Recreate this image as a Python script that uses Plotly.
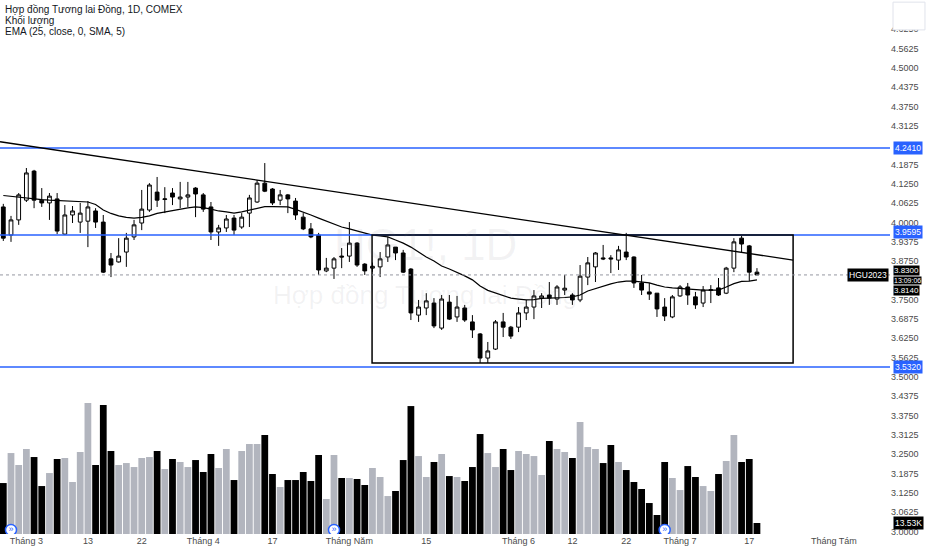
import plotly.graph_objects as go

# daily bars, Feb 24 .. Jul 18 2023 (HG1!, COMEX)
opens = [4.050, 3.959, 4.008, 4.072, 4.166, 4.072, 4.063, 4.076, 3.962, 4.024,
         4.001, 4.004, 4.037, 4.001, 3.882, 3.872, 3.904, 3.953, 3.998, 4.040,
         4.098, 4.074, 4.095, 4.076, 4.082, 4.111, 4.089, 4.050, 3.969, 3.982,
         4.014, 3.985, 4.030, 4.066, 4.127, 4.108, 4.072, 4.089, 4.069, 4.017,
         3.979, 3.959, 3.843, 3.852, 3.891, 3.891, 3.933, 3.865, 3.852, 3.856,
         3.888, 3.920, 3.901, 3.849, 3.700, 3.723, 3.739, 3.658, 3.742, 3.694,
         3.723, 3.678, 3.639, 3.561, 3.590, 3.678, 3.661, 3.661, 3.707, 3.726,
         3.755, 3.765, 3.752, 3.781, 3.765, 3.749, 3.823, 3.856, 3.885, 3.885,
         3.878, 3.904, 3.888, 3.804, 3.775, 3.771, 3.726, 3.694, 3.762, 3.791,
         3.759, 3.739, 3.780, 3.788, 3.771, 3.852, 3.949, 3.924, 3.839]
highs = [4.060, 4.021, 4.095, 4.176, 4.170, 4.111, 4.095, 4.095, 4.056, 4.053,
         4.063, 4.069, 4.046, 4.024, 3.901, 3.949, 3.966, 4.008, 4.105, 4.127,
         4.147, 4.114, 4.111, 4.131, 4.131, 4.114, 4.095, 4.066, 3.992, 4.024,
         4.024, 4.030, 4.089, 4.137, 4.192, 4.111, 4.105, 4.092, 4.079, 4.030,
         3.998, 3.966, 3.885, 3.888, 3.917, 4.001, 3.936, 3.868, 3.870, 3.904,
         3.953, 3.920, 3.911, 3.852, 3.749, 3.771, 3.755, 3.765, 3.765, 3.762,
         3.733, 3.700, 3.642, 3.613, 3.684, 3.707, 3.665, 3.726, 3.749, 3.781,
         3.771, 3.807, 3.797, 3.830, 3.771, 3.862, 3.888, 3.904, 3.927, 3.894,
         3.924, 3.966, 3.890, 3.830, 3.804, 3.771, 3.755, 3.765, 3.797, 3.804,
         3.775, 3.794, 3.797, 3.820, 3.856, 3.949, 3.956, 3.927, 3.852]
lows = [3.940, 3.937, 3.992, 4.066, 4.046, 4.050, 4.008, 3.962, 3.959, 3.998,
        3.966, 3.920, 3.982, 3.836, 3.823, 3.870, 3.856, 3.943, 3.975, 4.034,
        4.050, 4.030, 4.056, 4.046, 4.050, 4.017, 4.034, 3.943, 3.924, 3.969,
        3.959, 3.979, 3.985, 4.063, 4.098, 4.056, 4.056, 4.030, 4.008, 3.975,
        3.949, 3.830, 3.839, 3.817, 3.852, 3.872, 3.856, 3.830, 3.840, 3.823,
        3.872, 3.878, 3.836, 3.684, 3.678, 3.700, 3.658, 3.652, 3.684, 3.678,
        3.678, 3.626, 3.545, 3.545, 3.587, 3.629, 3.623, 3.645, 3.684, 3.687,
        3.723, 3.733, 3.733, 3.765, 3.733, 3.742, 3.797, 3.807, 3.878, 3.836,
        3.846, 3.878, 3.788, 3.765, 3.749, 3.694, 3.681, 3.690, 3.759, 3.733,
        3.720, 3.726, 3.739, 3.762, 3.768, 3.839, 3.901, 3.810, 3.830]
closes = [3.949, 4.008, 4.089, 4.160, 4.072, 4.063, 4.085, 3.972, 4.024, 4.037,
          4.030, 4.050, 4.001, 3.839, 3.862, 3.891, 3.949, 3.992, 4.043, 4.121,
          4.072, 4.076, 4.082, 4.082, 4.089, 4.092, 4.043, 3.969, 3.982, 4.011,
          3.975, 4.017, 4.079, 4.127, 4.101, 4.063, 4.089, 4.076, 4.024, 3.979,
          3.953, 3.846, 3.852, 3.882, 3.888, 3.933, 3.862, 3.843, 3.858, 3.882,
          3.927, 3.901, 3.839, 3.707, 3.726, 3.746, 3.665, 3.752, 3.687, 3.726,
          3.684, 3.652, 3.561, 3.584, 3.678, 3.661, 3.632, 3.707, 3.726, 3.762,
          3.762, 3.755, 3.791, 3.787, 3.749, 3.826, 3.869, 3.901, 3.882, 3.882,
          3.911, 3.888, 3.804, 3.781, 3.768, 3.720, 3.697, 3.759, 3.791, 3.765,
          3.733, 3.781, 3.782, 3.765, 3.852, 3.937, 3.930, 3.839, 3.830]
# volume, thousands of contracts
volumes_k = [62.7, 99.6, 84.9, 104.6, 94.7, 59.0, 75.0, 92.3, 93.5, 64.0,
             100.9, 161.1, 84.9, 158.7, 102.1, 84.9, 87.3, 82.4, 93.5, 94.7,
             102.1, 80.0, 92.3, 88.6, 82.4, 91.0, 76.3, 98.4, 81.2, 104.6,
             66.4, 102.1, 110.7, 110.7, 121.8, 73.8, 57.8, 66.4, 66.4, 76.3,
             65.2, 97.2, 43.1, 97.2, 68.9, 68.9, 67.7, 60.3, 81.2, 70.1,
             46.7, 52.9, 91.0, 157.4, 95.9, 70.1, 88.6, 98.4, 71.3, 70.1,
             65.2, 82.4, 123.0, 99.6, 82.4, 104.6, 78.7, 102.1, 98.4, 95.9,
             72.6, 114.4, 104.6, 100.9, 93.5, 137.8, 107.0, 104.6, 87.3, 109.5,
             88.6, 78.7, 64.0, 55.4, 38.1, 23.4, 88.6, 68.9, 54.1, 83.6,
             70.1, 59.0, 52.9, 73.8, 89.8, 121.8, 88.6, 92.3, 13.53]
# EMA(25) smoothed with SMA(5)
ema = [4.087, 4.084, 4.082, 4.079, 4.076, 4.074, 4.072, 4.071, 4.069, 4.068,
       4.067, 4.066, 4.058, 4.040, 4.029, 4.021, 4.016, 4.014, 4.016, 4.021,
       4.029, 4.034, 4.038, 4.043, 4.047, 4.050, 4.048, 4.043, 4.037, 4.034,
       4.030, 4.034, 4.040, 4.047, 4.051, 4.051, 4.050, 4.050, 4.042, 4.034,
       4.024, 4.014, 4.005, 3.995, 3.985, 3.979, 3.972, 3.966, 3.959, 3.956,
       3.953, 3.943, 3.933, 3.920, 3.904, 3.888, 3.875, 3.859, 3.849, 3.839,
       3.827, 3.814, 3.794, 3.780, 3.772, 3.763, 3.755, 3.752, 3.749, 3.750,
       3.754, 3.755, 3.755, 3.757, 3.759, 3.765, 3.778, 3.786, 3.794, 3.801,
       3.807, 3.810, 3.810, 3.807, 3.804, 3.797, 3.791, 3.788, 3.786, 3.784,
       3.783, 3.781, 3.781, 3.781, 3.791, 3.802, 3.809, 3.810, 3.814]

x_tick_idx = [3, 11, 18, 26, 35, 45, 55, 67, 74, 81, 88, 97, 108]
x_tick_labels = ["Tháng 3", "13", "22", "Tháng 4", "17", "Tháng Năm", "15",
                 "Tháng 6", "12", "22", "Tháng 7", "17", "Tháng Tám"]
# 4.2500 and 3.8125 sit under the price tags, so they are left out
y_ticks = [3.0, 3.0625, 3.125, 3.1875, 3.25, 3.3125, 3.375, 3.4375, 3.5, 3.5625,
           3.625, 3.6875, 3.75, 3.875, 3.9375, 4.0, 4.0625, 4.125,
           4.1875, 4.3125, 4.375, 4.4375, 4.5, 4.5625, 4.625]
levels = [4.2410, 3.9595, 3.5320]
level_tag_shift = [0, 3, 0]
trend_x = [-0.43, 102.7]
trend_y = [4.261, 3.878]
box_x = [47.95, 102.7]
box_y = [3.545, 3.9595]
roll_idx = [1, 43, 86]
last_price = 3.8300
ema_last = 3.8140
countdown = "13:09:06"

n = len(closes)
idx = list(range(n))
BLUE = "#2962ff"
FONT = "Liberation Sans, Arial, sans-serif"

vol_colors = ["#b2b5be" if c >= o else "#000000" for o, c in zip(opens, closes)]

fig = go.Figure()
fig.add_trace(go.Bar(x=idx, y=volumes_k, marker=dict(color=vol_colors, line=dict(width=0)),
                     yaxis="y2", showlegend=False, hoverinfo="skip"))
fig.add_trace(go.Candlestick(
    x=idx, open=opens, high=highs, low=lows, close=closes,
    increasing=dict(fillcolor="#ffffff", line=dict(color="#000000", width=1)),
    decreasing=dict(fillcolor="#000000", line=dict(color="#000000", width=1)),
    whiskerwidth=0, showlegend=False))
fig.add_trace(go.Scatter(x=idx, y=ema, mode="lines", line=dict(color="#000000", width=1.2),
                         showlegend=False, hoverinfo="skip"))
fig.add_trace(go.Scatter(x=roll_idx, y=[5] * len(roll_idx), yaxis="y2", mode="markers+text",
                         marker=dict(size=11, color="#ffffff", line=dict(color=BLUE, width=1.5)),
                         text=["»"] * len(roll_idx), textfont=dict(color=BLUE, size=9),
                         textposition="middle center", showlegend=False, hoverinfo="skip"))

shapes = []
for lv in levels:
    shapes.append(dict(type="line", xref="paper", x0=0, x1=1, yref="y", y0=lv, y1=lv,
                       line=dict(color=BLUE, width=1.5)))
shapes.append(dict(type="line", xref="x", yref="y", x0=trend_x[0], x1=trend_x[1],
                   y0=trend_y[0], y1=trend_y[1], line=dict(color="#000000", width=1.3)))
shapes.append(dict(type="rect", xref="x", yref="y", x0=box_x[0], x1=box_x[1],
                   y0=box_y[0], y1=box_y[1], line=dict(color="#000000", width=1.5)))
shapes.append(dict(type="line", xref="paper", x0=0, x1=1, yref="y", y0=last_price, y1=last_price,
                   line=dict(color="#9598a1", width=1, dash="dot")))
shapes.append(dict(type="rect", xref="paper", yref="paper", x0=1.0034, x1=1.0393,
                   y0=0.944, y1=0.996, line=dict(color="#e0e3eb", width=1), fillcolor="#ffffff"))

ann = []
legend_lines = ["Hợp đồng Tương lai Đồng, 1D, COMEX", "Khối lượng", "EMA (25, close, 0, SMA, 5)"]
for k, t in enumerate(legend_lines):
    ann.append(dict(text=t, xref="paper", yref="paper", x=0, y=1, xanchor="left", yanchor="top",
                    xshift=3, yshift=-2 - 11 * k, showarrow=False,
                    font=dict(family=FONT, size=10, color="#131722")))
# watermark
ann.append(dict(text="HG1!, 1D", xref="paper", yref="y", x=0.478, y=3.927, showarrow=False,
                font=dict(family=FONT, size=44, color="rgba(120,123,134,0.09)")))
ann.append(dict(text="Hợp đồng Tương lai Đồng", xref="paper", yref="y", x=0.478, y=3.765,
                showarrow=False, font=dict(family=FONT, size=26, color="rgba(120,123,134,0.09)")))

def price_tag(text, y, yref="y", bg="#000000", yshift=0, size=8.5, pad=1):
    return dict(text=text, xref="paper", yref=yref, x=1, y=y, xanchor="left", yanchor="middle",
                xshift=3, yshift=yshift, showarrow=False, bgcolor=bg, borderpad=pad,
                font=dict(family=FONT, size=size, color="#ffffff"))

for lv, sh in zip(levels, level_tag_shift):
    ann.append(price_tag(f"{lv:.4f}", lv, bg=BLUE, yshift=sh))
ann.append(dict(text="HGU2023", xref="paper", yref="y", x=1, y=last_price, xanchor="right",
                yanchor="middle", xshift=-1, showarrow=False, bgcolor="#000000", borderpad=1,
                font=dict(family=FONT, size=8.5, color="#ffffff")))
# last price, bar countdown and EMA value stacked in the price column
ann.append(price_tag(f"{last_price:.4f}", last_price, yshift=4, size=8, pad=0))
ann.append(price_tag(countdown, last_price, yshift=-6, size=7, pad=0))
ann.append(price_tag(f"{ema_last:.4f}", ema_last, yshift=-11, size=8, pad=0))
ann.append(price_tag(f"{volumes_k[-1]:.2f}K", volumes_k[-1], yref="y2"))

fig.update_layout(
    width=932, height=550,
    margin=dict(l=0, r=42, t=0, b=16),
    paper_bgcolor="#ffffff", plot_bgcolor="#ffffff",
    bargap=0.12,
    font=dict(family=FONT, size=9, color="#4a4a4a"),
    xaxis=dict(range=[-0.43, 115.3], tickvals=x_tick_idx, ticktext=x_tick_labels,
               showgrid=False, zeroline=False, showline=False, ticks="",
               rangeslider=dict(visible=False), tickfont=dict(size=9, color="#4a4a4a")),
    yaxis=dict(range=[2.9916, 4.7197], side="right", tickvals=y_ticks, tickformat=".4f",
               showgrid=False, zeroline=False, showline=False, ticks="",
               tickfont=dict(size=9, color="#4a4a4a")),
    yaxis2=dict(range=[0, 657], overlaying="y", visible=False),
    shapes=shapes, annotations=ann,
    hovermode=False,
)

# page has an 8px body margin by default; drop it so the chart fills the window
fig.write_html("out.html", config={"displayModeBar": False},
               post_script="document.body.style.margin='0';document.body.style.overflow='hidden';")
